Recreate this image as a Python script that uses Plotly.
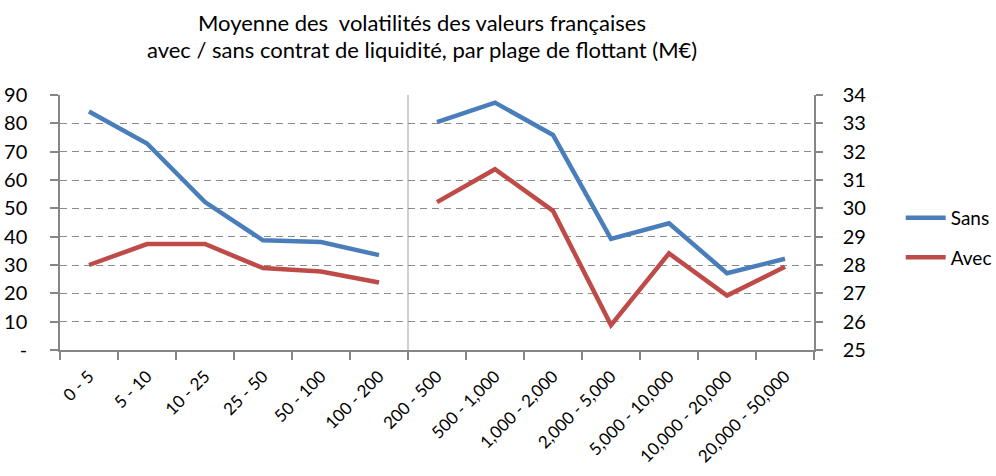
import plotly.graph_objects as go

categories = ["0 - 5", "5 - 10", "10 - 25", "25 - 50", "50 - 100", "100 - 200",
              "200 - 500", "500 - 1,000", "1,000 - 2,000", "2,000 - 5,000",
              "5,000 - 10,000", "10,000 - 20,000", "20,000 - 50,000"]
left_categories = categories[:6]
right_categories = categories[6:]

sans_left = [84.2, 72.9, 52.2, 38.7, 38.1, 33.5]
avec_left = [30.0, 37.4, 37.4, 28.9, 27.7, 23.8]
sans_right = [33.04, 33.73, 32.59, 28.92, 29.47, 27.71, 28.22]
avec_right = [30.22, 31.38, 29.91, 25.88, 28.41, 26.92, 27.94]

left_ticks = [0, 10, 20, 30, 40, 50, 60, 70, 80, 90]
left_ticktext = ["-", "10", "20", "30", "40", "50", "60", "70", "80", "90"]
right_ticks = [25, 26, 27, 28, 29, 30, 31, 32, 33, 34]

title_lines = ["Moyenne des  volatilités des valeurs françaises",
               "avec / sans contrat de liquidité, par plage de flottant (M€)"]

BLUE = "#4A7EBB"
RED = "#BE4B48"
AXIS = "#868686"
FONT = "Lato"

fig = go.Figure()
fig.add_trace(go.Scatter(x=left_categories, y=sans_left, mode="lines", name="Sans",
                         legendgroup="sans", line=dict(color=BLUE, width=4.5)))
fig.add_trace(go.Scatter(x=right_categories, y=sans_right, mode="lines", name="Sans",
                         legendgroup="sans", showlegend=False, yaxis="y2",
                         line=dict(color=BLUE, width=4.5)))
fig.add_trace(go.Scatter(x=left_categories, y=avec_left, mode="lines", name="Avec",
                         legendgroup="avec", line=dict(color=RED, width=4.5)))
fig.add_trace(go.Scatter(x=right_categories, y=avec_right, mode="lines", name="Avec",
                         legendgroup="avec", showlegend=False, yaxis="y2",
                         line=dict(color=RED, width=4.5)))

# separator between the two groups of ranges
fig.add_shape(type="line", xref="x", yref="paper", x0=5.5, x1=5.5, y0=0, y1=1,
              line=dict(color="#BFBFBF", width=1.5), layer="below")

# two-line title
for text, ypos in zip(title_lines, [1.283, 1.178]):
    fig.add_annotation(text=text, xref="paper", yref="paper", x=0.48, y=ypos,
                       xanchor="center", yanchor="middle", showarrow=False,
                       font=dict(family=FONT, size=22, color="#000000"))

fig.update_layout(
    width=996, height=476,
    margin=dict(l=60, r=182, t=95, b=126, autoexpand=False),
    paper_bgcolor="white", plot_bgcolor="white",
    font=dict(family=FONT, size=17, color="#000000"),
    xaxis=dict(type="category", categoryorder="array", categoryarray=categories,
               range=[-0.5, 12.5], tickson="boundaries", ticks="outside", ticklen=8,
               tickcolor=AXIS, tickwidth=1.5, showline=True, linecolor=AXIS, linewidth=1.5,
               showgrid=False, tickangle=-45, tickfont=dict(size=17),
               ticklabelstandoff=8, automargin=False),
    yaxis=dict(range=[0, 90], tickvals=left_ticks, ticktext=left_ticktext,
               ticks="outside", ticklen=8, tickcolor=AXIS, tickwidth=1.5,
               showline=True, linecolor=AXIS, linewidth=1.5,
               showgrid=True, gridcolor="#8C8C8C", gridwidth=1.2, griddash="7px,5px",
               zeroline=False, tickfont=dict(size=20), ticklabelstandoff=19,
               automargin=False),
    yaxis2=dict(range=[25, 34], tickvals=right_ticks, overlaying="y", side="right",
                ticks="outside", ticklen=7, tickcolor=AXIS, tickwidth=1.5,
                showline=True, linecolor=AXIS, linewidth=1.5, showgrid=False,
                zeroline=False, tickfont=dict(size=20), ticklabelstandoff=16,
                automargin=False),
    legend=dict(x=1.115, xanchor="left", y=0.44, yanchor="middle",
                font=dict(size=19), tracegroupgap=12, itemwidth=40,
                bgcolor="rgba(0,0,0,0)"),
    showlegend=True,
)

fig.write_html("out.html", config={"displayModeBar": False},
               post_script="document.body.style.margin='0';")
